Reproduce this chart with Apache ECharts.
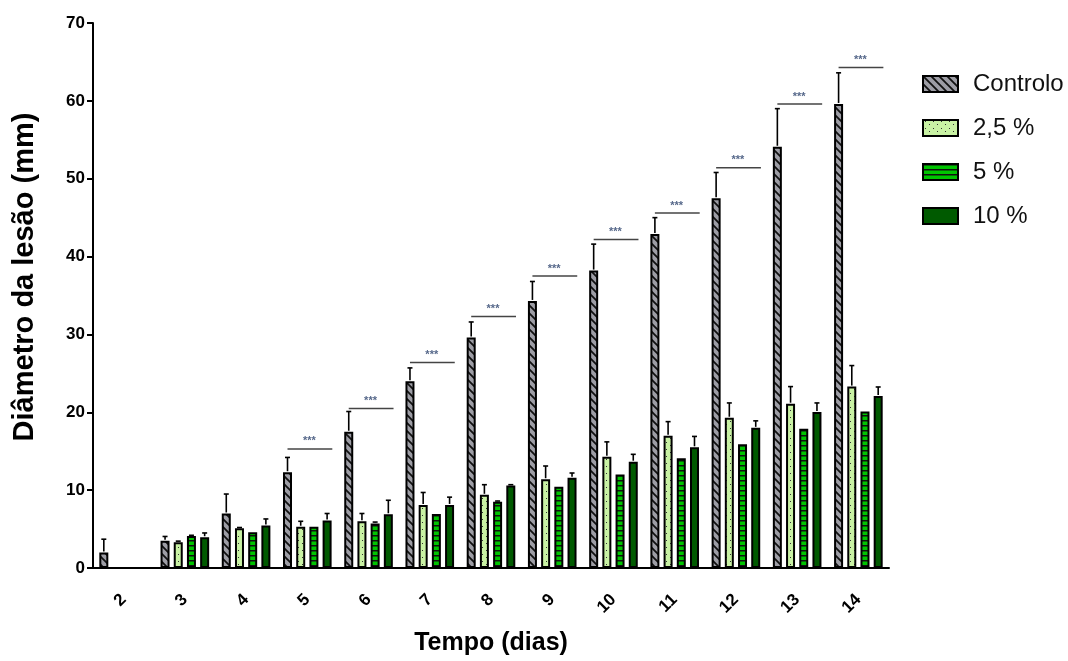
<!DOCTYPE html>
<html><head><meta charset="utf-8">
<script src="https://cdn.jsdelivr.net/npm/echarts@6/dist/echarts.min.js"></script>
<style>html,body{margin:0;padding:0;background:#fff}#c{width:1068px;height:661px}</style>
</head><body><div id="c"></div>
<script>
// ---- data ----
const days = ['2','3','4','5','6','7','8','9','10','11','12','13','14'];
const seriesNames = ['Controlo', '2,5 %', '5 %', '10 %'];
const controlo    = [2.0, 3.5, 7.0, 12.3, 17.5, 24.0, 29.6, 34.3, 38.2, 42.9, 47.5, 54.1, 59.6];
const controloErr = [1.7, 0.55, 2.5, 1.9, 2.6, 1.7, 2.0, 2.5, 3.4, 2.1, 3.3, 4.9, 4.0];
const p25         = [null, 3.3, 5.1, 5.3, 6.0, 8.1, 9.4, 11.4, 14.3, 17.0, 19.3, 21.1, 23.3];
const p25Err      = [0, 0.15, 0.1, 0.7, 1.0, 1.6, 1.3, 1.7, 1.9, 1.8, 1.9, 2.2, 2.7];
const p5          = [null, 4.1, 4.6, 5.3, 5.7, 6.95, 8.5, 10.45, 12.0, 14.1, 15.9, 17.9, 20.1];
const p5Err       = [0, 0.1, 0, 0, 0.2, 0, 0.1, 0, 0, 0, 0, 0, 0];
const p10         = [null, 3.95, 5.45, 6.1, 6.9, 8.1, 10.6, 11.6, 13.65, 15.5, 18.0, 20.05, 22.1];
const p10Err      = [0, 0.55, 0.85, 0.9, 1.8, 1.0, 0.1, 0.6, 0.95, 1.4, 0.9, 1.15, 1.15];
// significance bar heights (mm) for "***" vs Controlo
const sigLevel    = [null, null, null, 15.3, 20.5, 26.4, 32.3, 37.5, 42.2, 45.6, 51.4, 59.6, 64.3];
const sigLabel = '***';
const yTicks = { min: 0, max: 70, interval: 10 };

// ---- styles ----
const BAR_W = 9, BAR_GAP_PX = 4.2;
function offsetOf(s) { return (s - 1.5) * (BAR_W + BAR_GAP_PX); }

function makePattern(w, h, draw) {
  const c = document.createElement('canvas');
  c.width = w; c.height = h;
  const ctx = c.getContext('2d');
  draw(ctx, w, h);
  return { image: c, repeat: 'repeat' };
}
const patControl = makePattern(8, 8, (ctx, w, h) => {
  ctx.fillStyle = '#9d9da5'; ctx.fillRect(0, 0, w, h);
  ctx.strokeStyle = '#111'; ctx.lineWidth = 1.8;
  ctx.beginPath();
  ctx.moveTo(-1, -1); ctx.lineTo(w + 1, h + 1);
  ctx.moveTo(w - 1, -1); ctx.lineTo(w + 1, 1);
  ctx.moveTo(-1, h - 1); ctx.lineTo(1, h + 1);
  ctx.stroke();
});
const pat25 = makePattern(8, 7, (ctx, w, h) => {
  ctx.fillStyle = '#c9f2a4'; ctx.fillRect(0, 0, w, h);
  ctx.fillStyle = '#333';
  ctx.fillRect(2, 1, 1, 1);
  ctx.fillRect(6, 4, 1, 1);
});
const pat5 = makePattern(4, 5, (ctx, w, h) => {
  ctx.fillStyle = '#00c400'; ctx.fillRect(0, 0, w, h);
  ctx.fillStyle = '#111'; ctx.fillRect(0, 0, w, 1.5);
});
const colors = [patControl, pat25, pat5, '#005a00'];
const values = [controlo, p25, p5, p10];
const errs = [controloErr, p25Err, p5Err, p10Err];

const barSeries = seriesNames.map((name, s) => ({
  name, type: 'bar', barWidth: BAR_W, barGap: (BAR_GAP_PX / BAR_W * 100) + '%',
  data: values[s],
  itemStyle: { color: colors[s], borderColor: '#000', borderWidth: 2 },
  emphasis: { disabled: true }
}));

const errData = [];
values.forEach((arr, s) => arr.forEach((v, i) => {
  if (v != null && errs[s][i] > 0) errData.push([i, v, v + errs[s][i], s]);
}));
const sigData = [];
sigLevel.forEach((v, i) => { if (v != null) sigData.push([i, v]); });

const errSeries = {
  type: 'custom', data: errData, encode: { x: 0, y: [1, 2] }, z: 5, silent: true,
  renderItem: (params, api) => {
    const i = api.value(0);
    const lo = api.coord([i, api.value(1)]);
    const hi = api.coord([i, api.value(2)]);
    const x = lo[0] + offsetOf(api.value(3));
    return { type: 'group', children: [
      { type: 'line', shape: { x1: x, y1: lo[1] - 1, x2: x, y2: hi[1] }, style: { stroke: '#000', lineWidth: 1.6 } },
      { type: 'line', shape: { x1: x - 2.5, y1: hi[1], x2: x + 2.5, y2: hi[1] }, style: { stroke: '#000', lineWidth: 1.6 } }
    ]};
  }
};
const sigSeries = {
  type: 'custom', data: sigData, encode: { x: 0, y: 1 }, z: 5, silent: true,
  renderItem: (params, api) => {
    const c = api.coord([api.value(0), api.value(1)]);
    const x1 = c[0] + offsetOf(0), x2 = c[0] + 25;
    return { type: 'group', children: [
      { type: 'line', shape: { x1, y1: c[1], x2, y2: c[1] }, style: { stroke: '#444', lineWidth: 1.5 } },
      { type: 'text', style: { text: sigLabel, x: c[0] + 2, y: c[1] - 2, align: 'center', verticalAlign: 'bottom',
          fill: '#56688a', fontSize: 11, fontWeight: 'bold', fontFamily: 'Liberation Sans, Arial' } }
    ]};
  }
};

const chart = echarts.init(document.getElementById('c'), null, { renderer: 'canvas' });
chart.setOption({
  animation: false,
  backgroundColor: '#fff',
  textStyle: { fontFamily: 'Liberation Sans, Arial, sans-serif' },
  grid: { left: 93, right: 179, top: 23, bottom: 91, containLabel: false },
  legend: {
    data: seriesNames, orient: 'vertical', left: 917, top: 67,
    icon: 'rect', itemWidth: 35, itemHeight: 16, itemGap: 20,
    textStyle: { fontSize: 24, color: '#111', lineHeight: 24, padding: [0, 0, 0, 10] },
    selectedMode: false
  },
  xAxis: {
    type: 'category', data: days,
    name: 'Tempo (dias)', nameLocation: 'middle', nameGap: 63,
    nameTextStyle: { fontSize: 25, fontWeight: 'bold', color: '#000' },
    axisLine: { lineStyle: { color: '#000', width: 2 } },
    axisTick: { alignWithLabel: true, length: 6, lineStyle: { color: '#000', width: 2 } },
    axisLabel: { rotate: 45, margin: 29, fontSize: 17, fontWeight: 'bold', color: '#000', interval: 0 }
  },
  yAxis: {
    type: 'value', min: yTicks.min, max: yTicks.max, interval: yTicks.interval,
    name: 'Diâmetro da lesão (mm)', nameLocation: 'middle', nameGap: 54,
    nameTextStyle: { fontSize: 29, fontWeight: 'bold', color: '#000', padding: [0, 0, 0, 37] },
    axisLine: { show: true, lineStyle: { color: '#000', width: 2 } },
    axisTick: { show: true, length: 6, lineStyle: { color: '#000', width: 2 } },
    axisLabel: { fontSize: 17, fontWeight: 'bold', color: '#000', margin: 8 },
    splitLine: { show: false }
  },
  series: [...barSeries, errSeries, sigSeries]
});
</script>
</body></html>
